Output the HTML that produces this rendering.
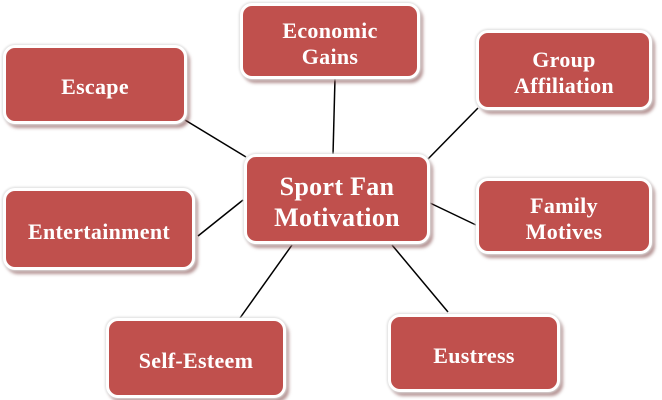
<!DOCTYPE html>
<html><head><style>
body{margin:0;width:662px;height:400px;background:#fff;position:relative;overflow:hidden;font-family:"Liberation Serif",serif}
.b{position:absolute;box-sizing:border-box;background:#C0504D;border:3px solid #fff;border-radius:12px;box-shadow:0 0 2px 1px #ddd,3px 4px 3px rgba(120,60,60,.55);color:#fff;font-weight:bold;font-size:22px;display:flex;align-items:center;justify-content:center;text-align:center;line-height:26px;letter-spacing:0.3px;padding-top:5px}
svg{position:absolute;left:0;top:0}
</style></head><body>
<svg width="662" height="400" stroke="#000" stroke-width="1.5">
<line x1="185" y1="120" x2="246" y2="157"/>
<line x1="335" y1="78" x2="333" y2="155"/>
<line x1="478" y1="108" x2="427" y2="160"/>
<line x1="476" y1="225" x2="430" y2="203"/>
<line x1="198" y1="236" x2="243" y2="200"/>
<line x1="240" y1="318" x2="292" y2="245"/>
<line x1="448" y1="312" x2="392" y2="245"/>
</svg>
<div class="b" style="left:240px;top:3px;width:180px;height:76px">Economic<br>Gains</div>
<div class="b" style="left:3px;top:45px;width:184px;height:79px">Escape</div>
<div class="b" style="left:476px;top:30px;width:176px;height:80px">Group<br>Affiliation</div>
<div class="b" style="left:244px;top:154px;width:186px;height:90px;font-size:26px;line-height:31px">Sport Fan<br>Motivation</div>
<div class="b" style="left:3px;top:188px;width:192px;height:82px">Entertainment</div>
<div class="b" style="left:476px;top:178px;width:176px;height:76px">Family<br>Motives</div>
<div class="b" style="left:106px;top:318px;width:180px;height:80px">Self-Esteem</div>
<div class="b" style="left:388px;top:314px;width:172px;height:78px">Eustress</div>
</body></html>
